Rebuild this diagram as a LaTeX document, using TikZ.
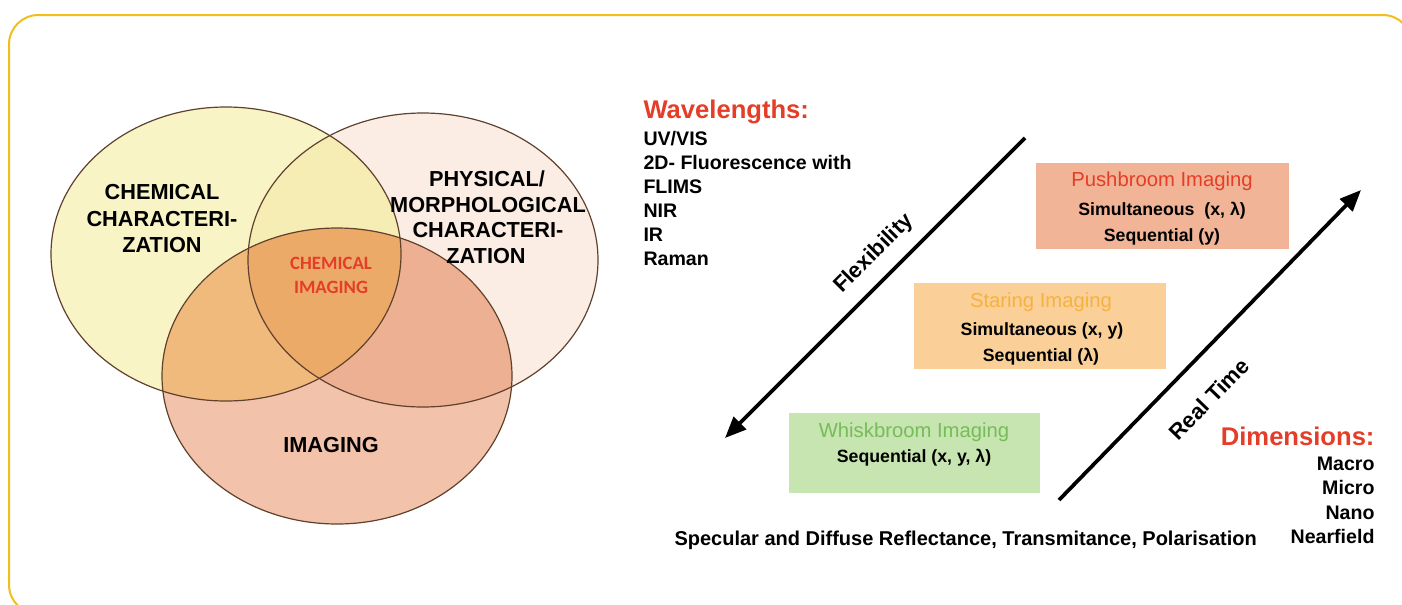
\documentclass[tikz,border=0pt]{standalone}
\usepackage{fontspec}
\setmainfont{Liberation Sans}
\newfontfamily\calfont{Carlito}
\usetikzlibrary{arrows.meta}

\definecolor{framegold}{RGB}{242,190,30}
\definecolor{vennline}{RGB}{95,65,45}
\definecolor{chemfill}{RGB}{248,244,198}
\definecolor{physfill}{RGB}{251,237,227}
\definecolor{chemphys}{RGB}{246,237,180}
\definecolor{imgfill}{RGB}{242,194,170}
\definecolor{imgchem}{RGB}{241,186,125}
\definecolor{imgphys}{RGB}{238,176,146}
\definecolor{allfill}{RGB}{236,170,105}
\definecolor{redtxt}{RGB}{228,62,40}
\definecolor{pushfill}{RGB}{242,180,150}
\definecolor{starefill}{RGB}{250,207,152}
\definecolor{whiskfill}{RGB}{198,229,176}
\definecolor{staretxt}{RGB}{246,178,64}
\definecolor{whisktxt}{RGB}{118,188,88}

\tikzset{every picture/.style={line width=0.75pt}}
\tikzset{
  vennlbl/.style={anchor=base,inner sep=0pt,font=\fontsize{16.3}{19}\selectfont\bfseries},
  cimglbl/.style={anchor=base,inner sep=0pt,text=redtxt,font=\calfont\fontsize{14.1}{17}\selectfont\bfseries},
  headlbl/.style={inner sep=0pt,text=redtxt,font=\fontsize{19.2}{23}\selectfont\bfseries},
  itemlbl/.style={inner sep=0pt,font=\fontsize{14.7}{18}\selectfont\bfseries},
  speclbl/.style={inner sep=0pt,font=\fontsize{15}{18}\selectfont\bfseries},
  boxnode/.style={draw=none,inner sep=0pt},
  boxtitle/.style={anchor=base,inner sep=0pt,font=\fontsize{15.2}{18}\selectfont},
  boxline/.style={anchor=base,inner sep=0pt,font=\fontsize{13.3}{16}\selectfont\bfseries},
  axisarrow/.style={line width=2.8pt,-{Triangle[length=16pt,width=13pt]}},
  axislbl/.style={inner sep=0pt,font=\fontsize{16.5}{20}\selectfont\bfseries},
}

\begin{document}
\begin{tikzpicture}[x=0.75pt,y=0.75pt,yscale=-1,xscale=1]
	\useasboundingbox (0,0) rectangle (1402,604);
	
	%Shape: Rounded Rectangle (frame)
	\draw [framegold, line width=1.5pt, rounded corners=22pt] (9,15) rectangle (1412,614);
	
	%Shape: Ellipse (venn fills)
	\fill [chemfill] (226,254) ellipse [x radius=175, y radius=147];
	\fill [physfill] (423,260) ellipse [x radius=175, y radius=147];
	\begin{scope}
		\clip (226,254) ellipse [x radius=175, y radius=147];
		\fill [chemphys] (423,260) ellipse [x radius=175, y radius=147];
	\end{scope}
	\fill [imgfill] (337,376) ellipse [x radius=175, y radius=148];
	\begin{scope}
		\clip (337,376) ellipse [x radius=175, y radius=148];
		\fill [imgchem] (226,254) ellipse [x radius=175, y radius=147];
		\fill [imgphys] (423,260) ellipse [x radius=175, y radius=147];
		\clip (226,254) ellipse [x radius=175, y radius=147];
		\fill [allfill] (423,260) ellipse [x radius=175, y radius=147];
	\end{scope}
	%Shape: Ellipse (venn outlines)
	\draw [vennline, line width=0.9pt] (226,254) ellipse [x radius=175, y radius=147];
	\draw [vennline, line width=0.9pt] (423,260) ellipse [x radius=175, y radius=147];
	\draw [vennline, line width=0.9pt] (337,376) ellipse [x radius=175, y radius=148];
	
	% Text Node
	\node [vennlbl] (chemA) at (162,199) {CHEMICAL};
	\node [vennlbl] (chemB) at (162,226) {CHARACTERI-};
	\node [vennlbl] (chemC) at (162,252) {ZATION};
	% Text Node
	\node [vennlbl] (physA) at (487,186) {PHYSICAL/};
	\node [vennlbl] (physB) at (488,212) {MORPHOLOGICAL};
	\node [vennlbl] (physC) at (488,237) {CHARACTERI-};
	\node [vennlbl] (physD) at (486,263) {ZATION};
	% Text Node
	\node [cimglbl] (cimgA) at (331,269) {CHEMICAL};
	\node [cimglbl] (cimgB) at (331,293) {IMAGING};
	% Text Node
	\node [vennlbl] (img) at (331,452) {IMAGING};
	
	% Text Node
	\node [headlbl, anchor=base west] (wave) at (643,118) {Wavelengths:};
	\node [itemlbl, anchor=base west] (waveA) at (643,145) {UV/VIS};
	\node [itemlbl, anchor=base west] (waveB) at (643,169) {2D- Fluorescence with};
	\node [itemlbl, anchor=base west] (waveC) at (643,193) {FLIMS};
	\node [itemlbl, anchor=base west] (waveD) at (643,217) {NIR};
	\node [itemlbl, anchor=base west] (waveE) at (643,241) {IR};
	\node [itemlbl, anchor=base west] (waveF) at (643,265) {Raman};
	
	%Straight Lines
	\coordinate (flexA) at (1025,138);
	\coordinate (flexB) at (725,438);
	\draw [axisarrow] (flexA) -- (flexB);
	\node [axislbl, rotate=45] (flex) at (874,254) {Flexibility};
	
	%Straight Lines
	\coordinate (rtA) at (1059,500);
	\coordinate (rtB) at (1361,190);
	\draw [axisarrow] (rtA) -- (rtB);
	\node [axislbl, rotate=46] (rt) at (1209,399) {Real Time};
	
	%Shape: Rectangle
	\node [boxnode, fill=pushfill, minimum width=189.75pt, minimum height=64.5pt] (push) at (1162.5,206) {};
	\node [boxtitle, text=redtxt] (pushT) at (1162,186) {Pushbroom Imaging};
	\node [boxline] (pushA) at (1162,215) {Simultaneous\ \ (x, λ)};
	\node [boxline] (pushB) at (1162,241) {Sequential (y)};
	
	%Shape: Rectangle
	\node [boxnode, fill=starefill, minimum width=189pt, minimum height=64.5pt] (stare) at (1040,326) {};
	\node [boxtitle, text=staretxt] (stareT) at (1041,307) {Staring Imaging};
	\node [boxline] (stareA) at (1042,335) {Simultaneous (x, y)};
	\node [boxline] (stareB) at (1041,361) {Sequential (λ)};
	
	%Shape: Rectangle
	\node [boxnode, fill=whiskfill, minimum width=188.25pt, minimum height=60pt] (whisk) at (914.5,453) {};
	\node [boxtitle, text=whisktxt] (whiskT) at (914,437) {Whiskbroom Imaging};
	\node [boxline] (whiskA) at (914,462) {Sequential (x, y, λ)};
	
	% Text Node
	\node [headlbl, anchor=base east] (dim) at (1375,445) {Dimensions:};
	\node [itemlbl, anchor=base east] (dimA) at (1375,470) {Macro};
	\node [itemlbl, anchor=base east] (dimB) at (1375,494) {Micro};
	\node [itemlbl, anchor=base east] (dimC) at (1375,519) {Nano};
	\node [itemlbl, anchor=base east] (dimD) at (1375,543) {Nearfield};
	
	% Text Node
	\node [speclbl, anchor=base west] (spec) at (674,545) {Specular and Diffuse Reflectance, Transmitance, Polarisation};
	
\end{tikzpicture}
\end{document}
